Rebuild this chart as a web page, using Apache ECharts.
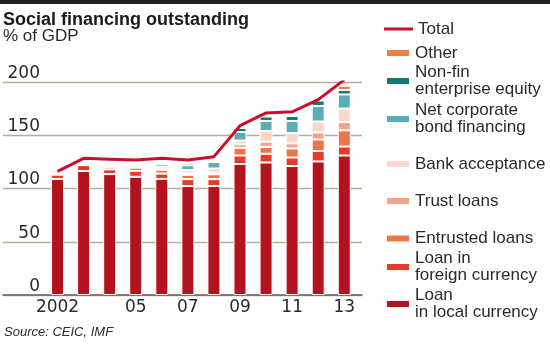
<!DOCTYPE html>
<html>
<head>
<meta charset="utf-8">
<script src="https://cdn.jsdelivr.net/npm/echarts@6/dist/echarts.min.js"></script>
<style>html,body{margin:0;padding:0;background:#fff}#c{width:550px;height:349px}</style>
</head>
<body>
<div id="c"></div>
<script>
// ---- data (% of GDP) ----
var years = ['2002','2003','2004','2005','2006','2007','2008','2009','2010','2011','2012','2013'];
var tickLabels = ['2002','','','05','','07','','09','','11','','13'];
var yTicks = [0, 50, 100, 150, 200];
var loanLocal    = [109, 116.4, 113.5, 111, 109, 102.3, 102.3, 123, 124.4, 121.1, 125.4, 131];
var loanForeign  = [4, 5.6, 4.5, 5.6, 5, 6.5, 6.5, 8, 8.2, 8, 9.8, 8.4];
var entrusted    = [1.5, 1.5, 2, 3, 3.5, 4, 4.5, 7.2, 6.4, 8.5, 10.8, 15.2];
var trustLoans   = [0, 0, 1, 0.5, 1, 1.5, 1.5, 3.4, 5, 4.8, 6.6, 7.8];
var bankAccept   = [0.5, 1, 2, 1.5, 2, 3, 4, 3.4, 10, 9.7, 10.3, 12.7];
var corpBond     = [0, 0, 0, 1.5, 2.5, 4.5, 6, 8, 9.4, 11.3, 14.6, 13.2];
var equity       = [0, 0, 0, 0.5, 1, 2, 1.5, 3.8, 4.2, 4.7, 5.1, 4.2];
var other        = [0, 0, 0, 0, 0, 0.5, 0.5, 0.5, 0.5, 0.5, 1, 4];
var total        = [116, 128.3, 127.4, 126.8, 128.3, 126.8, 129.9, 159, 171, 172, 183.5, 202];

var names = {
  total: 'Total',
  other: 'Other',
  equity: 'Non-fin\nenterprise equity',
  bond: 'Net corporate\nbond financing',
  bank: 'Bank acceptance',
  trust: 'Trust loans',
  entrusted: 'Entrusted loans',
  foreign: 'Loan in\nforeign currency',
  local: 'Loan\nin local currency'
};
var colors = {
  total: '#c8102e', other: '#f07c4a', equity: '#117a70', bond: '#5aafb6',
  bank: '#fcd6ca', trust: '#f6a38e', entrusted: '#ef7448', foreign: '#e63a2b', local: '#b51220'
};

var FONT = '"Liberation Sans", Arial, sans-serif';
var NUMFONT = '"DejaVu Sans", sans-serif';

function bar(key, data) {
  return {
    type: 'bar', name: names[key], data: data, stack: 'sf',
    xAxisIndex: 1, yAxisIndex: 1, barWidth: 13,
    itemStyle: { color: colors[key], borderColor: '#ffffff', borderWidth: 1 },
    emphasis: { disabled: true }
  };
}

function leg(key, left, top, twoLine, isLine) {
  return {
    left: left, top: top, padding: 0, orient: 'vertical',
    itemWidth: isLine ? 29 : 24, itemHeight: isLine ? 3 : 8,
    selectedMode: false,
    data: [{ name: names[key], icon: 'rect' }],
    textStyle: {
      fontFamily: FONT, fontSize: 17, color: '#2a2a2a', lineHeight: 17,
      padding: twoLine ? [17, 0, 0, 0] : 0
    }
  };
}

var chart = echarts.init(document.getElementById('c'), null, { renderer: 'canvas' });
chart.setOption({
  animation: false,
  backgroundColor: '#ffffff',
  grid: [
    { left: 3, right: 188, top: 82, bottom: 54 },
    { left: 44.5, right: 192.7, top: 82, bottom: 54 }
  ],
  xAxis: [
    { type: 'value', gridIndex: 0, min: 0, max: 1, axisLabel: { show: false }, axisTick: { show: false },
      splitLine: { show: false }, axisLine: { show: true, lineStyle: { color: '#6b6158', width: 1.5 } } },
    { type: 'category', gridIndex: 1, data: years, axisLine: { show: false }, axisTick: { show: false },
      axisLabel: {
        interval: function (i) { return tickLabels[i] !== ''; },
        formatter: function (v, i) { return tickLabels[i]; },
        fontFamily: NUMFONT, fontSize: 17, color: '#2a2a2a', margin: 4
      } }
  ],
  yAxis: [
    { type: 'value', gridIndex: 0, min: 0, max: 200, interval: 50,
      axisLine: { show: false }, axisTick: { show: false },
      splitLine: { show: true, lineStyle: { color: '#b8ab9c', width: 1.3 } },
      axisLabel: { inside: true, align: 'right', verticalAlign: 'bottom', margin: 37,
        fontFamily: NUMFONT, fontSize: 17, color: '#2a2a2a',
        formatter: function (v) { return yTicks.indexOf(v) >= 0 ? String(v) : ''; } } },
    { type: 'value', gridIndex: 1, min: 0, max: 200, interval: 50, show: false,
      splitLine: { show: false } }
  ],
  legend: [
    leg('total', 384, 20.5, false, true),
    leg('other', 385, 44.5, false),
    leg('equity', 385, 55.5, true),
    leg('bond', 385, 93.5, true),
    leg('bank', 385, 155.5, false),
    leg('trust', 385, 192.5, false),
    leg('entrusted', 385, 230, false),
    leg('foreign', 385, 241.5, true),
    leg('local', 385, 278.5, true)
  ],
  series: [
    bar('local', loanLocal),
    bar('foreign', loanForeign),
    bar('entrusted', entrusted),
    bar('trust', trustLoans),
    bar('bank', bankAccept),
    bar('bond', corpBond),
    bar('equity', equity),
    bar('other', other),
    { type: 'line', name: names.total, data: total, xAxisIndex: 1, yAxisIndex: 1,
      symbol: 'none', z: 5, color: colors.total,
      lineStyle: { color: colors.total, width: 3, join: 'round' },
      itemStyle: { color: colors.total } }
  ],
  graphic: [
    { type: 'rect', left: 0, top: 0, shape: { width: 550, height: 4 }, style: { fill: '#231f20' } },
    { type: 'text', left: 3, top: 11, style: { text: 'Social financing outstanding', fontFamily: FONT,
      fontWeight: 'bold', fontSize: 18, fill: '#1a1a1a' } },
    { type: 'text', left: 3, top: 28, style: { text: '% of GDP', fontFamily: FONT, fontSize: 17, fill: '#2a2a2a' } },
    { type: 'text', left: 4, top: 326, style: { text: 'Source: CEIC, IMF', fontFamily: FONT, fontStyle: 'italic',
      fontSize: 13, fill: '#2a2a2a' } }
  ]
});
</script>
</body>
</html>
